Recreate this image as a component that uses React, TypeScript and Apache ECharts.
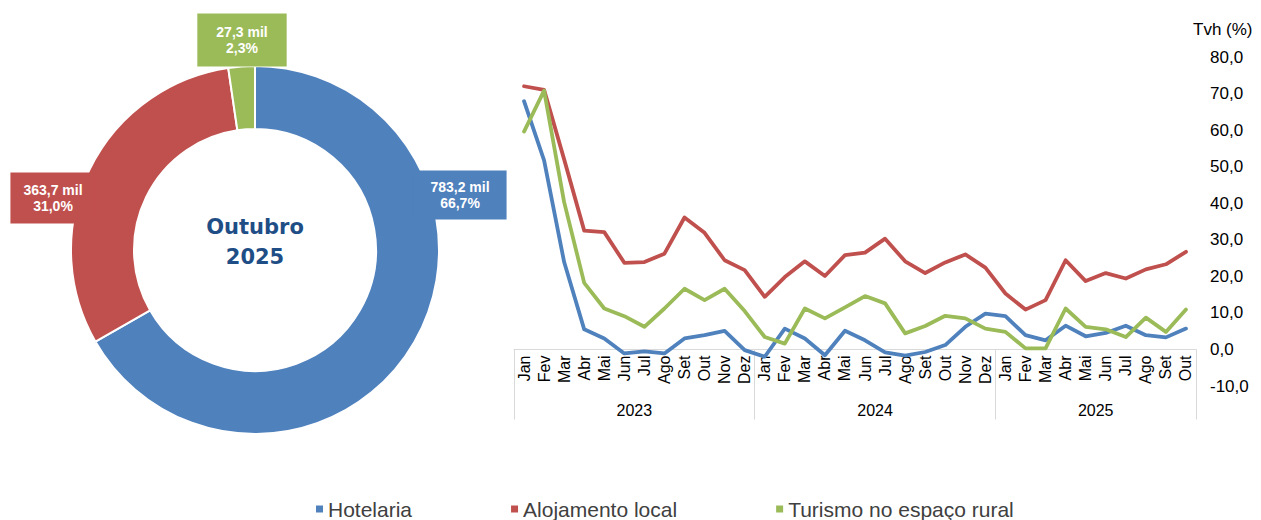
import React, { useEffect, useRef } from 'react';
import * as echarts from 'echarts';

const months = ['Jan', 'Fev', 'Mar', 'Abr', 'Mai', 'Jun', 'Jul', 'Ago', 'Set', 'Out', 'Nov', 'Dez'];
const years = ['2023', '2024', '2025'];
const monthsPerYear = [12, 12, 10];

const seriesNames = ['Hotelaria', 'Alojamento local', 'Turismo no espaço rural'];

const hotelaria = [
  67.9, 51.7, 23.9, 5.5, 3.0, -1.1, -0.5, -1.1, 3.0, 3.9, 5.1, -0.2,
  -2.0, 5.7, 3.0, -1.6, 5.1, 2.5, -0.8, -1.7, -0.7, 1.2, 6.2, 9.8,
  9.1, 3.9, 2.5, 6.5, 3.6, 4.5, 6.5, 3.9, 3.3, 5.7,
];
const alojamento = [
  72.0, 71.0, 52.0, 32.5, 32.1, 23.7, 23.9, 26.2, 36.1, 31.9, 24.4, 21.7,
  14.4, 19.8, 24.1, 20.1, 25.8, 26.5, 30.3, 24.1, 20.9, 23.8, 26.0, 22.4,
  15.3, 10.9, 13.5, 24.4, 18.7, 20.9, 19.4, 21.9, 23.3, 26.7,
];
const rural = [
  59.6, 70.8, 40.3, 18.2, 11.2, 9.1, 6.2, 11.2, 16.6, 13.5, 16.6, 10.5,
  3.4, 1.6, 11.2, 8.5, 11.5, 14.6, 12.6, 4.4, 6.4, 9.2, 8.5, 5.7,
  4.8, 0.3, 0.3, 11.2, 6.2, 5.5, 3.4, 8.7, 4.8, 10.9,
];

const pieValues = [783.2, 363.7, 27.3];
const pieTitle = 'Outubro\n2025';
const yAxisName = 'Tvh (%)';

const colors = ['#4F81BD', '#C0504D', '#9BBB59'];
const FONT = '"Liberation Sans", Arial, sans-serif';

export default function App() {
  const ref = useRef<HTMLDivElement>(null);

  useEffect(() => {
    if (!ref.current) return;
    const chart = echarts.init(ref.current, undefined, { renderer: 'svg' });

    const categories: string[] = [];
    const yearAxisData: string[] = [];
    const yearStarts: number[] = [];
    years.forEach((y, i) => {
      const start = categories.length;
      yearStarts.push(start);
      for (let m = 0; m < monthsPerYear[i]; m++) {
        categories.push(months[m]);
        yearAxisData.push('');
      }
      yearAxisData[start + Math.floor((monthsPerYear[i] - 1) / 2)] = y;
    });

    const fmt = (v: number, d = 1) => v.toFixed(d).replace('.', ',');

    const pieLabelStyles = [
      { padding: [8, 17], pos: [460, 195] },
      { padding: [9, 13], pos: [53, 198] },
      { padding: [10, 19], pos: [242, 40] },
    ];

    const lineData = [hotelaria, alojamento, rural];

    // grid spans -10..80 over 329px; the 0 line sits 36.5px above the grid bottom
    const zeroOffset = -36.5;

    const option: any = {
      animation: false,
      color: colors,
      textStyle: { fontFamily: FONT },
      title: {
        text: yAxisName,
        left: 1193,
        top: 21,
        padding: 0,
        textStyle: { fontSize: 17, fontWeight: 'normal', color: '#000', fontFamily: FONT },
      },
      legend: {
        data: seriesNames,
        left: 316,
        top: 498,
        padding: 0,
        icon: 'rect',
        itemWidth: 7,
        itemHeight: 7,
        itemGap: 99,
        textStyle: { fontSize: 21, lineHeight: 22, color: '#404040', fontFamily: FONT },
      },
      grid: {
        left: 514,
        right: 65,
        top: 57,
        bottom: 134,
        containLabel: false,
        outerBoundsMode: 'none',
      },
      xAxis: [
        {
          type: 'category',
          data: categories,
          position: 'bottom',
          offset: zeroOffset,
          boundaryGap: true,
          axisLine: { onZero: false, lineStyle: { color: '#D9D9D9', width: 1 } },
          axisTick: { show: false },
          axisLabel: {
            interval: 0,
            rotate: 90,
            margin: 6,
            fontSize: 16,
            color: '#000',
            fontFamily: FONT,
          },
        },
        {
          type: 'category',
          data: yearAxisData,
          position: 'bottom',
          offset: zeroOffset,
          boundaryGap: true,
          axisLine: { show: false, onZero: false },
          axisTick: {
            show: true,
            length: 70,
            interval: (index: number) => yearStarts.includes(index),
            lineStyle: { color: '#D9D9D9', width: 1 },
          },
          axisLabel: {
            interval: 0,
            margin: 53,
            fontSize: 16,
            color: '#000',
            fontFamily: FONT,
            padding: [0, 0, 0, 20],
          },
        },
      ],
      yAxis: {
        type: 'value',
        position: 'right',
        min: -10,
        max: 80,
        interval: 10,
        axisLine: { show: false },
        axisTick: { show: false },
        splitLine: { show: false },
        axisLabel: {
          margin: 14,
          fontSize: 17,
          color: '#000',
          fontFamily: FONT,
          formatter: (v: number) => fmt(v),
        },
      },
      graphic: [
        {
          type: 'text',
          x: 255,
          y: 242,
          style: {
            text: pieTitle,
            fill: '#1F4E86',
            fontSize: 21,
            fontWeight: 'bold',
            fontFamily: '"DejaVu Sans", Verdana, sans-serif',
            align: 'center',
            verticalAlign: 'middle',
            lineHeight: 30,
          },
        },
      ],
      series: [
        {
          type: 'pie',
          center: [255, 250],
          radius: [121, 184],
          startAngle: 90,
          clockwise: true,
          avoidLabelOverlap: false,
          itemStyle: { borderColor: '#fff', borderWidth: 2 },
          labelLine: { show: false },
          emphasis: { disabled: true },
          data: pieValues.map((v, i) => ({
            name: seriesNames[i],
            value: v,
            itemStyle: { color: colors[i] },
            label: {
              show: true,
              position: 'outside',
              backgroundColor: colors[i],
              padding: pieLabelStyles[i].padding,
              color: '#fff',
              fontWeight: 'bold',
              fontSize: 14,
              lineHeight: 16.5,
              align: 'center',
              fontFamily: FONT,
            },
          })),
          label: {
            formatter: (p: any) => `${fmt(p.value)} mil\n${fmt(p.percent)}%`,
          },
          labelLayout: (params: any) => {
            const pos = pieLabelStyles[params.dataIndex].pos;
            return { x: pos[0], y: pos[1], align: 'center', verticalAlign: 'middle' };
          },
        },
        ...lineData.map((d, i) => ({
          type: 'line',
          name: seriesNames[i],
          data: d,
          xAxisIndex: 0,
          yAxisIndex: 0,
          showSymbol: false,
          symbol: 'none',
          smooth: false,
          lineStyle: { color: colors[i], width: 3.8, join: 'round', cap: 'round' },
          itemStyle: { color: colors[i] },
          z: 3,
        })),
      ],
    };

    chart.setOption(option);
    return () => chart.dispose();
  }, []);

  return (
    <div
      ref={ref}
      style={{ position: 'absolute', left: 0, top: 0, width: 1261, height: 520 }}
    />
  );
}
